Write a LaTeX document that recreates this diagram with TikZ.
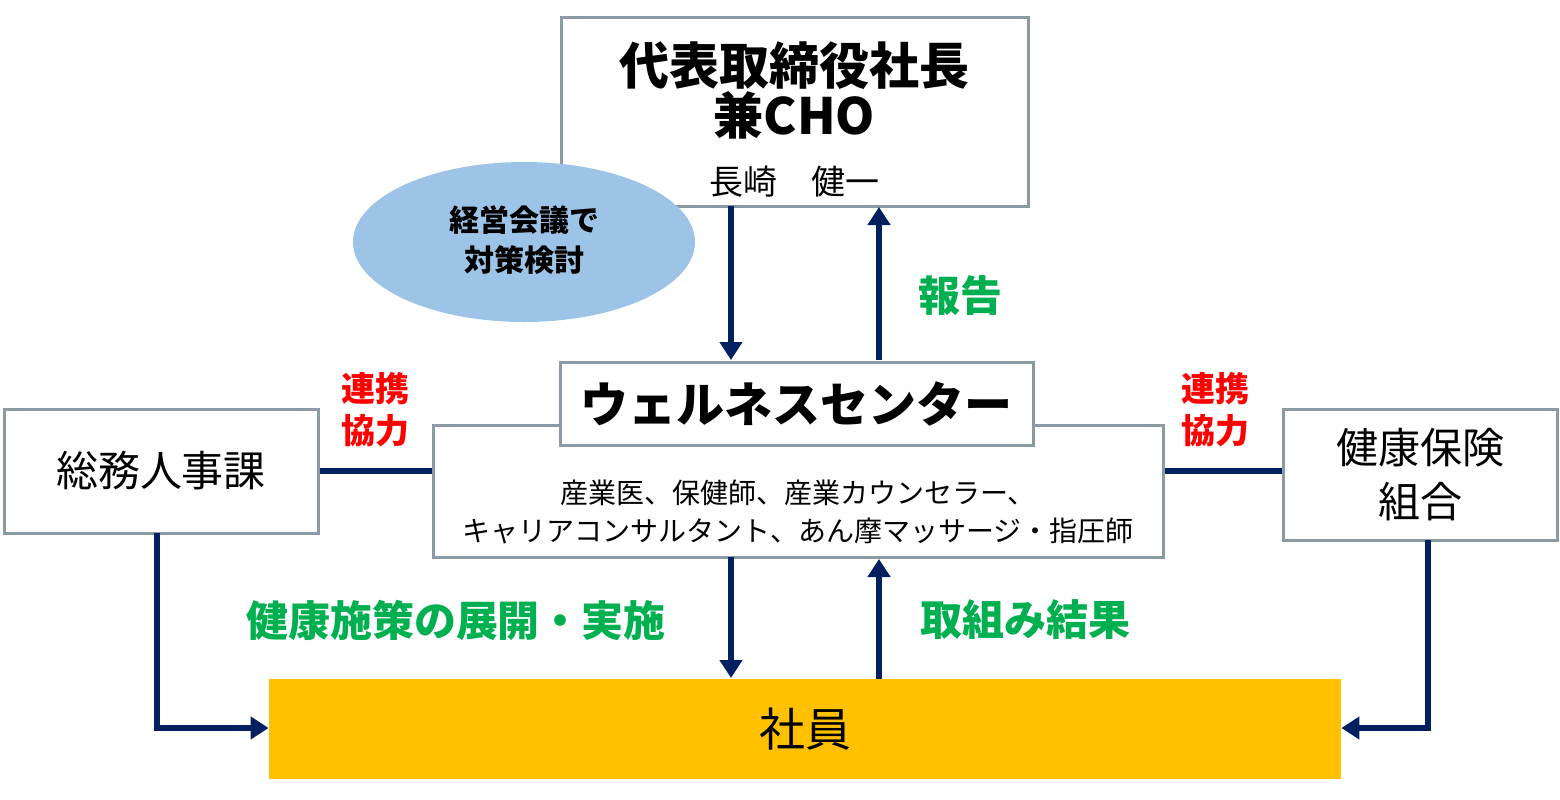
\documentclass[tikz,border=0pt]{standalone}
\usepackage{fontspec}
\setmainfont{Noto Sans CJK JP}
\usetikzlibrary{arrows.meta,shapes.geometric}
\definecolor{navy}{HTML}{002060}
\definecolor{bord}{HTML}{8A9BA3}
\definecolor{gr}{HTML}{00B050}
\definecolor{lb}{HTML}{9DC3E6}
\definecolor{gold}{HTML}{FFC000}
\begin{document}
\begin{tikzpicture}[x=0.5pt,y=-0.5pt,
 box/.style={draw=bord,line width=1.5pt,fill=white,inner sep=0},
 conn/.style={draw=navy,line width=3pt},
 arr/.style={conn,-{Triangle[length=9pt,width=11pt]}},
 lab/.style={font=\fontsize{21}{24}\selectfont\bfseries,inner sep=0,align=center}]
\useasboundingbox (0,0) rectangle (1560,799);
\node[box,minimum width=233.5pt,minimum height=94.5pt] (ceo) at (794.5,111.5) {};
\node[inner sep=0,align=center] (ceot) at (794.5,90) {\fontsize{25}{34}\selectfont\bfseries 代表取締役社長\\ \fontsize{25}{34}\selectfont\bfseries 兼CHO};
\node[inner sep=0,font=\fontsize{17}{20}\selectfont] (ceon) at (794.5,182) {長崎　健一};
\node[ellipse,fill=lb,minimum width=171pt,minimum height=80pt,inner sep=0] (meet) at (524,242) {};
\node[align=center,font=\fontsize{15}{20}\selectfont\bfseries] (meett) at (524,240) {経営会議で\\対策検討};
\node[box,minimum width=365pt,minimum height=66pt] (staff) at (798,491) {};
\node[inner sep=0,align=center,font=\fontsize{14}{19}\selectfont] (stafft) at (798,512) {産業医、保健師、産業カウンセラー、\\キャリアコンサルタント、あん摩マッサージ・指圧師};
\node[box,minimum width=236.5pt,minimum height=41.5pt,font=\fontsize{24}{28}\selectfont\bfseries] (wc) at (796.5,403.5) {ウェルネスセンター};
\node[box,minimum width=157pt,minimum height=62pt,font=\fontsize{21}{24}\selectfont] (hr) at (161,471) {総務人事課};
\node[box,minimum width=137pt,minimum height=65.5pt,font=\fontsize{21}{27}\selectfont,align=center] (kk) at (1420,474.5) {健康保険\\組合};
\node[fill=gold,minimum width=536pt,minimum height=50pt,inner sep=0,font=\fontsize{23}{26}\selectfont] (emp) at (805,729) {社員};
\coordinate (a1) at (731,206); \coordinate (a2) at (731,360);
\coordinate (b1) at (879,360); \coordinate (b2) at (879,207);
\coordinate (c1) at (731,557); \coordinate (c2) at (731,678);
\coordinate (d1) at (879,679); \coordinate (d2) at (879,559);
\draw[arr] (a1) -- (a2);
\draw[arr] (b1) -- (b2);
\draw[arr] (c1) -- (c2);
\draw[arr] (d1) -- (d2);
\draw[conn] (hr.east) -- (staff.west |- hr.east);
\draw[conn] (kk.west |- 0,471) -- (staff.east |- 0,471);
\draw[arr] (157,533) -- (157,728) -- (emp.west |- 0,728);
\draw[arr] (1428,540) -- (1428,728) -- (emp.east |- 0,728);
\node[lab,text=gr] (l1) at (960,296) {報告};
\node[lab,text=red,font=\fontsize{17}{21}\selectfont\bfseries] (l2) at (375,410) {連携\\協力};
\node[lab,text=red,font=\fontsize{17}{21}\selectfont\bfseries] (l3) at (1215,410) {連携\\協力};
\node[lab,text=gr] (l4) at (456,620) {健康施策の展開・実施};
\node[lab,text=gr] (l5) at (1025,620) {取組み結果};
\end{tikzpicture}
\end{document}
